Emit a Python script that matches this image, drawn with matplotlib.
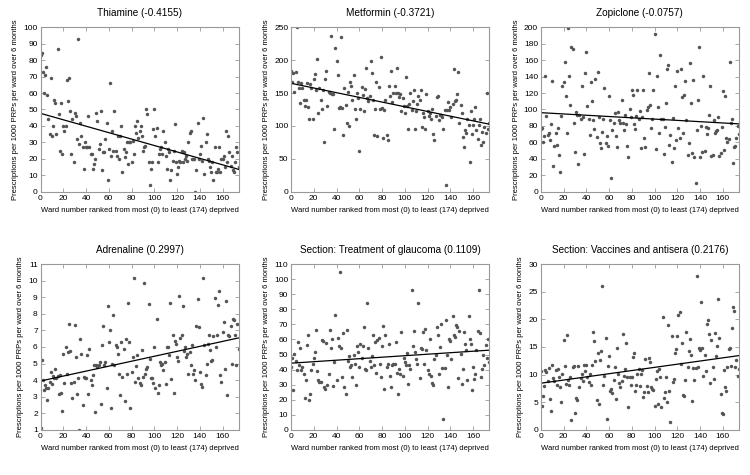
import matplotlib
matplotlib.use("Agg")
import matplotlib.pyplot as plt
import numpy as np

plt.rcParams['font.family'] = ['Liberation Sans', 'DejaVu Sans']

# ward rank 0..174 (most to least deprived)
wards = np.arange(175)

thiamine = [
    83, 84, 73, 60, 71, 76, 59, 44, 35, 69,
    34, 40, 56, 54, 35, 87, 47, 25, 54, 23,
    40, 37, 40, 68, 55, 69, 49, 23, 44, 18,
    48, 46, 32, 93, 29, 42, 34, 27, 14, 30,
    27, 27, 46, 27, 23, 23, 14, 17, 20, 48,
    43, 26, 29, 49, 13, 24, 24, 32, 42, 7,
    26, 66, 22, 37, 25, 49, 25, 22, 34, 20,
    34, 40, 12, 26, 21, 24, 30, 17, 30, 30,
    18, 31, 23, 40, 36, 43, 33, 37, 40, 34,
    25, 27, 28, 50, 47, 18, 4, 14, 18, 38,
    50, 34, 39, 18, 23, 26, 27, 23, 37, 30,
    22, 14, 26, 24, 7, 13, 19, 25, 41, 18,
    11, 15, 19, 18, 25, 18, 24, 20, 22, 19,
    30, 36, 37, 20, 20, 20, 0, 13, 42, 20,
    23, 28, 19, 45, 11, 30, 35, 20, 19, 15,
    12, 18, 7, 27, 12, 12, 14, 27, 12, 20,
    20, 22, 15, 37, 18, 34, 24, 16, 22, 13,
    12, 18, 27, 24, 15,
]

metformin = [
    183, 166, 180, 151, 182, 250, 166, 158, 135, 165,
    157, 140, 130, 139, 165, 129, 111, 163, 157, 111,
    172, 179, 155, 201, 120, 158, 139, 126, 155, 75,
    172, 184, 130, 152, 150, 237, 148, 148, 96, 218,
    198, 177, 127, 129, 235, 128, 86, 157, 132, 104,
    152, 100, 166, 161, 139, 178, 125, 111, 150, 143,
    62, 125, 159, 147, 122, 156, 188, 142, 138, 146,
    199, 180, 140, 86, 125, 167, 85, 159, 125, 204,
    127, 81, 124, 140, 86, 78, 161, 146, 184, 137,
    150, 161, 150, 188, 150, 144, 148, 122, 142, 130,
    119, 175, 130, 96, 133, 150, 124, 138, 155, 95,
    122, 133, 145, 140, 155, 99, 119, 114, 96, 148,
    123, 115, 119, 111, 125, 88, 79, 115, 144, 145,
    109, 117, 117, 113, 96, 124, 10, 124, 137, 124,
    129, 113, 133, 186, 138, 140, 148, 182, 105, 132,
    119, 84, 68, 94, 90, 111, 101, 46, 123, 88,
    101, 110, 129, 94, 80, 101, 111, 71, 91, 76,
    99, 89, 150, 95, 105,
]

zopiclone = [
    76, 78, 61, 68, 141, 92, 69, 72, 63, 82,
    135, 31, 56, 71, 57, 78, 45, 24, 92, 129,
    133, 158, 116, 72, 199, 141, 106, 176, 173, 83,
    49, 97, 93, 34, 93, 88, 128, 91, 46, 144,
    170, 104, 89, 69, 133, 110, 87, 76, 137, 67,
    145, 91, 59, 53, 73, 89, 126, 59, 68, 56,
    116, 87, 17, 75, 84, 96, 68, 54, 97, 87,
    84, 112, 84, 75, 93, 82, 56, 42, 100, 91,
    124, 118, 82, 76, 92, 124, 89, 98, 53, 91,
    124, 66, 55, 99, 103, 144, 106, 77, 89, 124,
    191, 52, 141, 103, 72, 166, 88, 89, 46, 79,
    108, 149, 154, 57, 69, 36, 90, 53, 128, 63,
    147, 78, 65, 149, 115, 71, 118, 134, 87, 45,
    59, 156, 108, 47, 136, 42, 11, 75, 112, 176,
    42, 80, 49, 141, 50, 79, 70, 77, 93, 129,
    43, 45, 87, 72, 74, 75, 91, 43, 47, 79,
    122, 51, 116, 66, 61, 64, 158, 83, 89, 35,
    55, 56, 65, 80, 70,
]

adrenaline = [
    1.1, 5.2, 4.0, 3.4, 3.7, 3.5, 2.8, 3.5, 3.9, 4.5,
    3.75, 4.25, 4.15, 4.7, 4.1, 4.25, 3.15, 4.3, 3.2, 2.15,
    5.55, 3.8, 6.0, 4.35, 5.7, 7.4, 5.75, 3.8, 2.9, 3.9,
    7.3, 5.4, 3.15, 4.15, 1.0, 6.5, 5.6, 2.5, 4.2, 4.1,
    4.1, 5.5, 3.15, 5.9, 4.0, 3.7, 4.3, 4.9, 2.1, 4.9,
    4.8, 4.9, 5.1, 2.55, 6.1, 7.25, 4.9, 5.1, 3.55, 8.5,
    6.3, 7.0, 2.3, 5.0, 7.95, 4.9, 6.1, 6.0, 5.6, 4.4,
    3.1, 6.3, 4.2, 5.9, 2.75, 6.5, 4.4, 8.65, 6.3, 2.3,
    4.5, 5.4, 10.15, 3.9, 4.85, 5.5, 4.1, 3.8, 3.7, 5.8,
    4.2, 9.85, 4.4, 4.7, 4.8, 8.6, 5.3, 4.1, 4.1, 3.8,
    6.0, 3.5, 7.7, 3.2, 3.7, 5.1, 4.9, 5.0, 4.6, 5.1,
    3.75, 6.0, 6.0, 5.5, 8.65, 4.05, 6.75, 3.2, 6.35, 6.2,
    5.4, 5.15, 9.05, 6.55, 6.75, 8.45, 5.75, 6.0, 5.4, 5.55,
    4.4, 5.7, 4.9, 6.15, 4.4, 4.6, 4.0, 7.25, 8.9, 7.2,
    4.5, 3.75, 3.6, 10.15, 6.15, 4.3, 5.0, 6.2, 6.7, 5.8,
    5.15, 5.2, 6.65, 8.95, 6.0, 6.7, 8.55, 9.4, 4.3, 3.9,
    6.9, 7.5, 4.65, 8.8, 3.1, 6.75, 6.65, 7.25, 5.0, 7.7,
    7.65, 6.7, 4.9, 7.4, 5.9,
]

glaucoma = [
    42, 48, 26.6, 50.6, 46, 39.5, 58, 43, 54, 39.5,
    42, 37, 21, 33, 56.5, 63, 20, 23.5, 40, 44,
    48, 51.7, 66, 39, 33, 32, 31.7, 59.4, 59, 28.4,
    27, 57.7, 30, 37, 66.5, 54, 60.5, 28.8, 45, 76.5,
    33, 61, 55.5, 105, 54, 35, 64.3, 28.4, 24, 66.5,
    46, 49, 41.7, 42.8, 35, 49.5, 44, 29.5, 55.5, 51.7,
    42, 57, 48, 55.5, 68, 40.6, 39.5, 84, 54, 46,
    41.7, 48.8, 62.8, 42.8, 58.3, 37.7, 59.4, 61, 44, 35,
    55.5, 68.8, 27, 62.8, 41.7, 43.9, 57, 35.5, 28.4, 42.8,
    44, 43.5, 58.3, 37.7, 23.5, 40.6, 36.8, 65, 36, 48,
    45, 42.8, 51, 30.6, 42.8, 40.6, 93, 55.5, 65.6, 51.7,
    47, 44, 84, 34.6, 54.6, 53.5, 65, 44, 67, 52.8,
    40, 37, 60, 35.5, 31, 30, 47, 49.5, 68, 62.8,
    36.8, 55, 70.5, 41.3, 7.3, 41.3, 72.7, 50, 28.4, 60,
    59, 47, 75.4, 62.8, 61.7, 69.4, 68, 34.6, 65.6, 50.6,
    30.6, 40.6, 65, 57, 52.8, 33.3, 75.4, 60.5, 57, 26.6,
    42, 34, 36.8, 52.8, 65.6, 92.7, 64, 35, 40.6, 49.5,
    42.8, 56, 48, 60, 45,
]

vaccines = [
    10.6, 4.3, 6.2, 8.0, 10.8, 10.4, 8.9, 11.2, 5.6, 3.4,
    11.8, 9.3, 8.8, 10.8, 8.2, 11.0, 9.6, 7.7, 5.0, 10.2,
    16.3, 11.6, 8.3, 17.2, 9.0, 8.2, 9.5, 1.8, 11.3, 11.6,
    3.0, 5.8, 5.4, 11.6, 7.7, 9.4, 10.2, 8.9, 11.8, 10.7,
    11.8, 9.5, 8.6, 10.2, 8.1, 11.8, 17.8, 16.0, 12.5, 5.4,
    14.0, 4.6, 12.6, 14.3, 26.1, 8.2, 9.8, 16.6, 2.0, 11.6,
    13.4, 7.1, 7.4, 6.6, 9.0, 11.4, 5.6, 14.8, 10.1, 8.4,
    7.8, 8.9, 17.3, 9.8, 11.0, 15.8, 9.6, 4.2, 9.5, 8.2,
    9.5, 13.2, 13.9, 7.0, 8.2, 10.1, 11.0, 8.0, 10.2, 10.8,
    5.9, 6.8, 12.8, 8.0, 6.8, 13.0, 12.2, 7.7, 7.4, 7.2,
    4.4, 9.2, 10.7, 4.6, 11.0, 9.5, 4.1, 20.4, 5.8, 6.8,
    9.6, 5.1, 18.9, 7.1, 1.4, 16.9, 8.6, 9.2, 13.9, 14.6,
    17.0, 20.7, 21.3, 11.9, 15.8, 6.4, 6.2, 9.0, 17.8, 11.4,
    14.2, 16.4, 13.6, 5.2, 11.2, 9.0, 11.2, 27.9, 11.4, 14.8,
    14.5, 23.1, 14.8, 9.8, 13.6, 10.6, 19.2, 19.9, 17.3, 8.4,
    16.3, 11.4, 9.2, 17.5, 13.4, 15.1, 23.7, 16.7, 6.5, 3.0,
    2.9, 10.8, 7.8, 7.0, 11.4, 14.6, 14.9, 11.6, 18.4, 22.2,
    21.6, 11.3, 12.6, 9.8, 11.0,
]

titles = ["Thiamine (-0.4155)", "Metformin (-0.3721)", "Zopiclone (-0.0757)",
          "Adrenaline (0.2997)", "Section: Treatment of glaucoma (0.1109)",
          "Section: Vaccines and antisera (0.2176)"]
series = [thiamine, metformin, zopiclone, adrenaline, glaucoma, vaccines]
ylims = [(0, 100), (0, 250), (0, 200), (1, 11), (0, 110), (0, 30)]
ysteps = [10, 50, 20, 1, 10, 5]

fig = plt.figure(figsize=(7.5, 4.75), dpi=100)
lefts = [0.054, 0.388, 0.721]
bottoms = [0.596, 0.095]
heights = [0.347, 0.349]

for i, (title, vals) in enumerate(zip(titles, series)):
    r, c = divmod(i, 3)
    ax = fig.add_axes([lefts[c], bottoms[r], 0.264, heights[r]])
    y = np.array(vals, dtype=float)
    ax.plot(wards, y, 'o', color='#555555', ms=2.5, mew=0)
    # least squares trend line
    k, b = np.polyfit(wards, y, 1)
    xs = np.array([0, 174])
    ax.plot(xs, k * xs + b, color='black', lw=0.9)
    ax.set_xlim(0, 174)
    lo, hi = ylims[i]
    ax.set_ylim(lo, hi)
    ax.set_xticks(np.arange(0, 175, 20))
    ax.set_yticks(np.arange(lo, hi + 0.001, ysteps[i]))
    ax.tick_params(direction='in', length=3, width=0.6, color='#999999',
                   labelsize=6, top=True, right=True, pad=2)
    for s in ax.spines.values():
        s.set_color('#999999')
        s.set_linewidth(0.8)
    ax.set_title(title, fontsize=7.2, pad=8)
    ax.set_xlabel("Ward number ranked from most (0) to least (174) deprived",
                  fontsize=5.5, labelpad=4)
    ax.set_ylabel("Prescriptions per 1000 PRPs per ward over 6 months",
                  fontsize=5.5, labelpad=3)

fig.savefig("out.png", dpi=100)
